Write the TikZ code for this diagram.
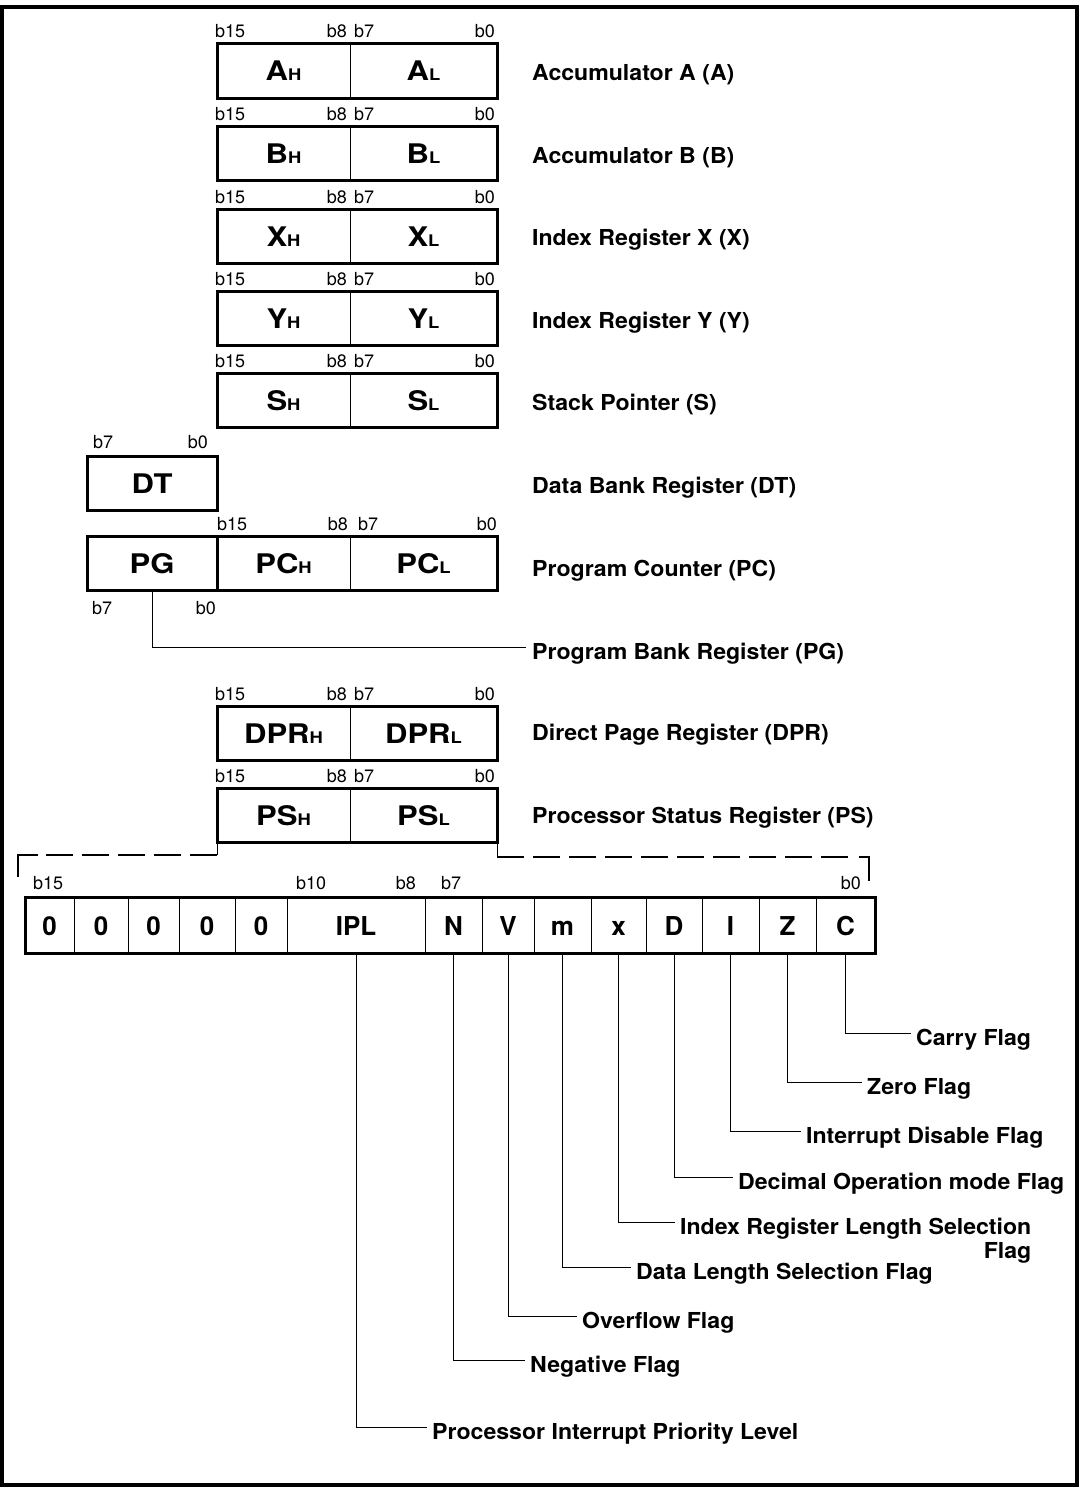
\documentclass[tikz,border=0pt]{standalone}
\usepackage{fontspec}
\setmainfont{TeX Gyre Heros}
\newfontfamily\labfont[FakeStretch=1.05]{TeX Gyre Heros}
\newfontfamily\boxfont[FakeStretch=1.15]{TeX Gyre Heros}
\newcommand\regtxt[2]{{\boxfont\fontsize{27}{27}\selectfont\bfseries #1}{\boxfont\fontsize{16}{16}\selectfont\bfseries #2}}
\begin{document}
\begin{tikzpicture}[x=1pt,y=-1pt,
  cell/.style={draw, line width=0.8pt, anchor=north west, minimum height=54pt,
    inner sep=0pt, outer sep=0pt, text height=20pt, text depth=0pt},
  flagcell/.style={cell, minimum height=56pt, font=\fontsize{26}{26}\selectfont\bfseries},
  regframe/.style={line width=3pt},
  bitlbl/.style={font=\fontsize{18}{20}\selectfont, inner sep=0pt},
  reglbl/.style={anchor=base west, inner sep=0pt, font=\labfont\fontsize{22}{26}\selectfont\bfseries},
  leader/.style={line width=0.9pt},
  bracket/.style={line width=1.4pt, dash pattern=on 27pt off 9pt},
  bracketend/.style={line width=1.4pt}]
\useasboundingbox (0,0) rectangle (1080,1488);
\draw[line width=4pt] (2,7) rectangle (1077,1485);

% 16-bit registers
\foreach \n/\top/\lab/\lb in {A/44/Accumulator A (A)/81, B/126/Accumulator B (B)/163,
    X/209/Index Register X (X)/245, Y/291/Index Register Y (Y)/328,
    S/373/Stack Pointer (S)/410, DPR/706/Direct Page Register (DPR)/740,
    PS/788/Processor Status Register (PS)/823}{
  \node[cell, minimum width=133pt] (\n H) at (217,\top) {\regtxt{\n}{H}};
  \node[cell, minimum width=147pt] (\n L) at (350,\top) {\regtxt{\n}{L}};
  \draw[regframe] (\n H.north west) rectangle (\n L.south east);
  \node[bitlbl, anchor=base west] (\n b15) at ([xshift=-2pt,yshift=6pt]\n H.north west) {b15};
  \node[bitlbl, anchor=base east] (\n b8) at ([xshift=-3pt,yshift=6pt]\n H.north east) {b8};
  \node[bitlbl, anchor=base west] (\n b7) at ([xshift=4pt,yshift=6pt]\n L.north west) {b7};
  \node[bitlbl, anchor=base east] (\n b0) at ([xshift=-2pt,yshift=6pt]\n L.north east) {b0};
  \node[reglbl] (\n lab) at (532,\lb) {\lab};
}

% Data bank register
\node[cell, minimum width=130pt] (DT) at (87,456) {\regtxt{DT}{}};
\draw[regframe] (DT.north west) rectangle (DT.south east);
\node[bitlbl, anchor=base west] (DTb7) at ([xshift=6pt,yshift=8pt]DT.north west) {b7};
\node[bitlbl, anchor=base east] (DTb0) at ([xshift=-9pt,yshift=8pt]DT.north east) {b0};
\node[reglbl] (DTlab) at (532,493) {Data Bank Register (DT)};

% Program counter
\node[cell, minimum width=130pt] (PG) at (87,536) {\regtxt{PG}{}};
\node[cell, minimum width=133pt] (PCH) at (217,536) {\regtxt{PC}{H}};
\node[cell, minimum width=147pt] (PCL) at (350,536) {\regtxt{PC}{L}};
\draw[regframe] (PG.north west) rectangle (PCL.south east);
\draw[regframe] (PG.north east) -- (PG.south east);
\node[bitlbl, anchor=base west] (PCb15) at ([yshift=6pt]PCH.north west) {b15};
\node[bitlbl, anchor=base east] (PCb8) at ([xshift=-2pt,yshift=6pt]PCH.north east) {b8};
\node[bitlbl, anchor=base west] (PCb7) at ([xshift=8pt,yshift=6pt]PCL.north west) {b7};
\node[bitlbl, anchor=base east] (PCb0) at ([yshift=6pt]PCL.north east) {b0};
\node[bitlbl, anchor=base west] (PGb7) at ([xshift=5pt,yshift=-24pt]PG.south west) {b7};
\node[bitlbl, anchor=base east] (PGb0) at ([xshift=-1pt,yshift=-24pt]PG.south east) {b0};
\node[reglbl] (PClab) at (532,576) {Program Counter (PC)};
\node[reglbl] (PGlab) at (532,659) {Program Bank Register (PG)};
\draw[leader] (PG.south) |- ([xshift=-6pt,yshift=12pt]PGlab.base west);

% Processor status bits
\foreach \nm/\x/\w/\t in {z1/25/49/0, z2/74/54/0, z3/128/51/0, z4/179/56/0, z5/235/52/0,
    IPL/287/138/IPL, N/425/57/N, V/482/52/V, m/534/57/m, x/591/55/x,
    D/646/56/D, I/702/57/I, Z/759/57/Z, C/816/59/C}{
  \node[flagcell, minimum width=\w pt] (f\nm) at (\x,897) {\t};
}
\draw[regframe] (fz1.north west) rectangle (fC.south east);
\node[bitlbl, anchor=base west] (Fb15) at ([xshift=8pt,yshift=8pt]fz1.north west) {b15};
\node[bitlbl, anchor=base west] (Fb10) at ([xshift=9pt,yshift=8pt]fIPL.north west) {b10};
\node[bitlbl, anchor=base east] (Fb8) at ([xshift=-9pt,yshift=8pt]fIPL.north east) {b8};
\node[bitlbl, anchor=base west] (Fb7) at ([xshift=16pt,yshift=8pt]fN.north west) {b7};
\node[bitlbl, anchor=base east] (Fb0) at ([xshift=-14pt,yshift=8pt]fC.north east) {b0};

% Dashed bracket linking PS to the bit map
\coordinate (dl) at (18,855);
\coordinate (dr) at (869,857);
\draw[leader] (PSH.south west) -- (PSH.south west |- dl);
\draw[bracket] (PSH.south west |- dl) -- ([xshift=28pt]dl);
\draw[bracketend] ([xshift=20pt]dl) -- (dl) -- ++(0,22);
\draw[leader] (PSL.south east) -- (PSL.south east |- dr);
\draw[bracket] (PSL.south east |- dr) -- ([xshift=-20pt]dr);
\draw[bracketend] ([xshift=-10pt]dr) -- (dr) -- ++(0,24);

% Flag labels and leaders
\foreach \c/\yb/\xt/\txt in {C/1045/916/Carry Flag, Z/1094/867/Zero Flag,
    I/1143/806/Interrupt Disable Flag, D/1189/738/Decimal Operation mode Flag,
    x/1234/680/Index Register Length Selection, m/1279/636/Data Length Selection Flag,
    V/1328/582/Overflow Flag, N/1372/530/Negative Flag,
    IPL/1439/432/Processor Interrupt Priority Level}{
  \node[reglbl] (l\c) at (\xt,\yb) {\txt};
  \draw[leader] (f\c.south) |- ([xshift=-5pt,yshift=12pt]l\c.base west);
}
\node[reglbl, anchor=base east] (lxf) at ([yshift=-24pt]lx.base east) {Flag};
\end{tikzpicture}
\end{document}
